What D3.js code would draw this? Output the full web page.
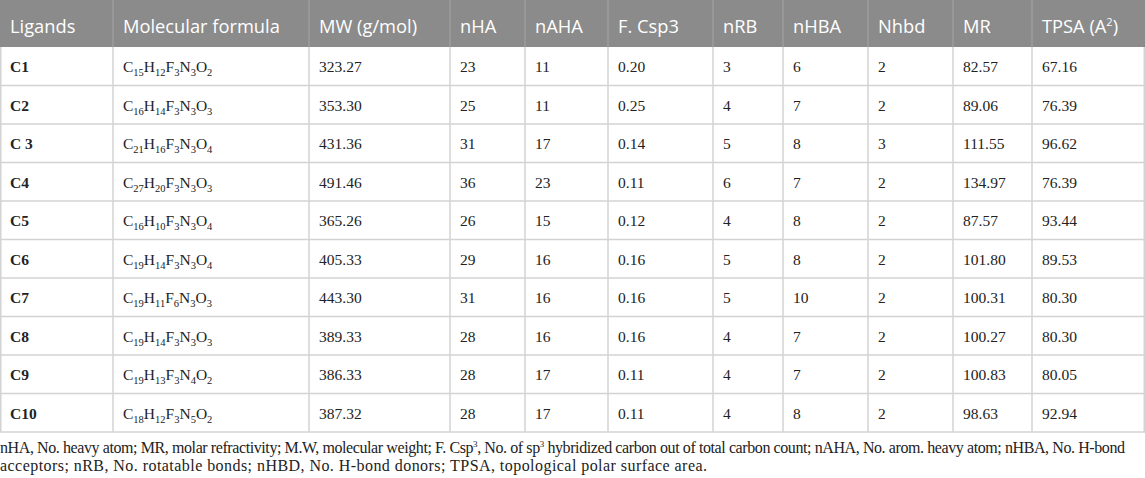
<!DOCTYPE html>
<html>
<head>
<meta charset="utf-8">
<script src="https://cdn.jsdelivr.net/npm/d3@7"></script>
<style>
  body { margin: 0; background: #fff; }
  svg { display: block; }
</style>
</head>
<body>
<div id="table"></div>
<script>
// table data
var headers = ["Ligands", "Molecular formula", "MW (g/mol)", "nHA", "nAHA", "F. Csp3", "nRB", "nHBA", "Nhbd", "MR", "TPSA (A2)"];
var ligands = ["C1", "C2", "C 3", "C4", "C5", "C6", "C7", "C8", "C9", "C10"];
var formulas = ["C15H12F3N3O2", "C16H14F3N3O3", "C21H16F3N3O4", "C27H20F3N3O3", "C16H10F3N3O4",
                "C19H14F3N3O4", "C19H11F6N3O3", "C19H14F3N3O3", "C19H13F3N4O2", "C18H12F3N5O2"];
var mw   = ["323.27", "353.30", "431.36", "491.46", "365.26", "405.33", "443.30", "389.33", "386.33", "387.32"];
var nHA  = ["23", "25", "31", "36", "26", "29", "31", "28", "28", "28"];
var nAHA = ["11", "11", "17", "23", "15", "16", "16", "16", "17", "17"];
var fCsp3 = ["0.20", "0.25", "0.14", "0.11", "0.12", "0.16", "0.16", "0.16", "0.11", "0.11"];
var nRB  = ["3", "4", "5", "6", "4", "5", "5", "4", "4", "4"];
var nHBA = ["6", "7", "8", "7", "8", "8", "10", "7", "7", "8"];
var nhbd = ["2", "2", "3", "2", "2", "2", "2", "2", "2", "2"];
var mr   = ["82.57", "89.06", "111.55", "134.97", "87.57", "101.80", "100.31", "100.27", "100.83", "98.63"];
var tpsa = ["67.16", "76.39", "96.62", "76.39", "93.44", "89.53", "80.30", "80.30", "80.05", "92.94"];

var footnote = [
  "nHA, No. heavy atom; MR, molar refractivity; M.W, molecular weight; F. Csp^3, No. of sp^3 hybridized carbon out of total carbon count; nAHA, No. arom. heavy atom; nHBA, No. H-bond",
  "acceptors; nRB, No. rotatable bonds; nHBD, No. H-bond donors; TPSA, topological polar surface area."
];

var columns = [ligands, formulas, mw, nHA, nAHA, fCsp3, nRB, nHBA, nhbd, mr, tpsa];

// layout
var width = 1145, height = 478,
    headerH = 47, tableBottom = 432,
    colEdges = [0, 113, 309, 450, 525, 608, 713, 783, 868, 953, 1032, 1145],
    padX = 10,
    footLen = [1125, 707],
    headFill = "#8b8b8b", gridColor = "#d3d3d3";

var svg = d3.select("#table").append("svg")
    .attr("width", width)
    .attr("height", height);

var y = d3.scaleBand()
    .domain(ligands)
    .range([headerH, tableBottom]);

// header band
svg.append("rect")
    .attr("x", 0).attr("y", 0)
    .attr("width", width).attr("height", headerH)
    .attr("fill", headFill);

// header separators
svg.append("g").selectAll("line")
    .data(colEdges.slice(1, -1))
    .enter().append("line")
    .attr("x1", function (d) { return d; })
    .attr("x2", function (d) { return d; })
    .attr("y1", 0).attr("y2", headerH)
    .attr("stroke", "#a2a2a2")
    .attr("stroke-width", 1.2);

// header text, with superscript for the trailing 2 in TPSA
var head = svg.append("g")
    .attr("font-family", "'Open Sans', sans-serif")
    .attr("font-size", 18.3)
    .attr("fill", "#fff");

headers.forEach(function (h, i) {
  var t = head.append("text")
      .attr("x", colEdges[i] + padX)
      .attr("y", 33);
  if (h === "TPSA (A2)") {
    t.append("tspan").text("TPSA (A");
    t.append("tspan").text("2").attr("font-size", 11).attr("dy", -7);
    t.append("tspan").text(")").attr("dy", 7);
  } else {
    t.text(h);
  }
});

// grid lines
var grid = svg.append("g")
    .attr("stroke", gridColor)
    .attr("stroke-width", 1.5);

grid.selectAll(".hline")
    .data(ligands)
    .enter().append("line")
    .attr("class", "hline")
    .attr("x1", 0).attr("x2", width)
    .attr("y1", function (d) { return y(d) + y.bandwidth(); })
    .attr("y2", function (d) { return y(d) + y.bandwidth(); });

grid.selectAll(".vline")
    .data(colEdges)
    .enter().append("line")
    .attr("class", "vline")
    .attr("x1", function (d) { return Math.min(Math.max(d, 0.75), width - 0.75); })
    .attr("x2", function (d) { return Math.min(Math.max(d, 0.75), width - 0.75); })
    .attr("y1", headerH).attr("y2", tableBottom);

// body cells
var body = svg.append("g")
    .attr("font-family", "'Liberation Serif', 'Times New Roman', serif")
    .attr("font-size", 15.5)
    .attr("fill", "#222");

columns.forEach(function (col, ci) {
  body.selectAll(".c" + ci)
      .data(col)
      .enter().append("text")
      .attr("class", "c" + ci)
      .attr("x", colEdges[ci] + padX)
      .attr("y", function (d, i) { return y(ligands[i]) + y.bandwidth() / 2 + 6; })
      .attr("font-weight", ci === 0 ? "bold" : null)
      .each(function (d) {
        if (ci !== 1) { d3.select(this).text(d); return; }
        // formula: digits become subscripts
        var t = d3.select(this), parts = d.match(/[A-Z][a-z]?|\d+/g), sub = false;
        parts.forEach(function (p) {
          var isNum = /\d/.test(p);
          var s = t.append("tspan").text(p);
          if (isNum) {
            s.attr("font-size", 10.5);
            if (!sub) s.attr("dy", 4);
          } else if (sub) {
            s.attr("dy", -4);
          }
          sub = isNum;
        });
      });
});

// footnote
var foot = svg.append("g")
    .attr("font-family", "'Liberation Serif', 'Times New Roman', serif")
    .attr("font-size", 16)
    .attr("fill", "#222");

footnote.forEach(function (line, li) {
  var t = foot.append("text")
      .attr("x", 0)
      .attr("y", 453 + li * 17.5)
      .attr("textLength", footLen[li])
      .attr("lengthAdjust", "spacing");
  var raised = false;
  line.split(/(\^3)/).forEach(function (p) {
    if (p === "^3") {
      t.append("tspan").text("3").attr("font-size", 9).attr("dy", -6);
      raised = true;
    } else if (p.length) {
      var s = t.append("tspan").text(p);
      if (raised) { s.attr("dy", 6); raised = false; }
    }
  });
});
</script>
</body>
</html>
